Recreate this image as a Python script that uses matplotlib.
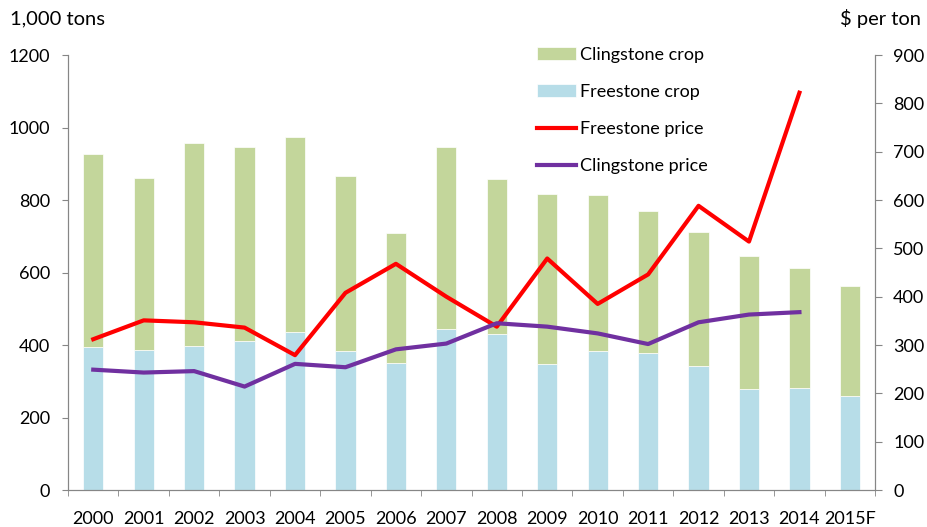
import numpy as np
import matplotlib.pyplot as plt

plt.rcParams['font.family'] = ['Lato', 'DejaVu Sans']

years = ['2000', '2001', '2002', '2003', '2004', '2005', '2006', '2007',
         '2008', '2009', '2010', '2011', '2012', '2013', '2014', '2015F']
total_crop = [927, 862, 958, 947, 973, 866, 710, 947, 857, 817, 815, 771, 711, 646, 613, 564]
freestone_crop = [394, 386, 396, 411, 435, 383, 350, 443, 431, 348, 383, 378, 342, 279, 281, 258]
clingstone_crop = [t - f for t, f in zip(total_crop, freestone_crop)]
freestone_price = [312, 351, 347, 336, 279, 408, 468, 400, 338, 479, 385, 446, 588, 514, 822]
clingstone_price = [249, 243, 246, 214, 261, 254, 291, 303, 345, 338, 324, 302, 347, 363, 368]

green = '#C3D69B'
blue = '#B7DDE8'
gray = '#868686'

fig = plt.figure(figsize=(9.27, 5.27), dpi=100)
ax = fig.add_axes([0.0734, 0.0702, 0.8706, 0.8254])
ax2 = ax.twinx()

x = np.arange(len(years))
b1 = ax.bar(x, freestone_crop, width=0.4, color=blue, edgecolor='white', linewidth=0.5)
b2 = ax.bar(x, clingstone_crop, width=0.4, bottom=freestone_crop, color=green,
            edgecolor='white', linewidth=0.5)

xp = np.arange(len(freestone_price))
l1, = ax2.plot(xp, freestone_price, color='#FF0000', linewidth=3)
l2, = ax2.plot(xp, clingstone_price, color='#7030A0', linewidth=3)

ax.set_xlim(-0.5, len(years) - 0.5)
ax.set_ylim(0, 1200)
ax2.set_ylim(0, 900)
ax.set_yticks(range(0, 1201, 200))
ax2.set_yticks(range(0, 901, 100))

ax.set_xticks(x)
ax.set_xticklabels(years)
ax.set_xticks(np.arange(-0.5, len(years), 1), minor=True)
ax.tick_params(axis='x', which='major', length=0, labelsize=13, pad=15)
ax.tick_params(axis='x', which='minor', length=4, color=gray, direction='out')
ax.tick_params(axis='y', length=4, color=gray, labelsize=13, direction='out', pad=9)
ax2.tick_params(axis='y', length=5, color=gray, labelsize=13, direction='out', pad=8)

for a in (ax, ax2):
    a.spines['top'].set_visible(False)
    for s in ('left', 'right', 'bottom'):
        a.spines[s].set_color(gray)

fig.text(0.011, 0.965, '1,000 tons', fontsize=14.5, va='center', ha='left')
fig.text(0.993, 0.965, '$ per ton', fontsize=14.5, va='center', ha='right')

fig.legend([b2, b1, l1, l2],
           ['Clingstone crop', 'Freestone crop', 'Freestone price', 'Clingstone price'],
           loc='upper left', bbox_to_anchor=(0.5715, 0.925), frameon=False,
           fontsize=13, labelspacing=1.17, handlelength=2.15, handletextpad=0.25,
           borderaxespad=0)

fig.savefig('out.png', dpi=100)
